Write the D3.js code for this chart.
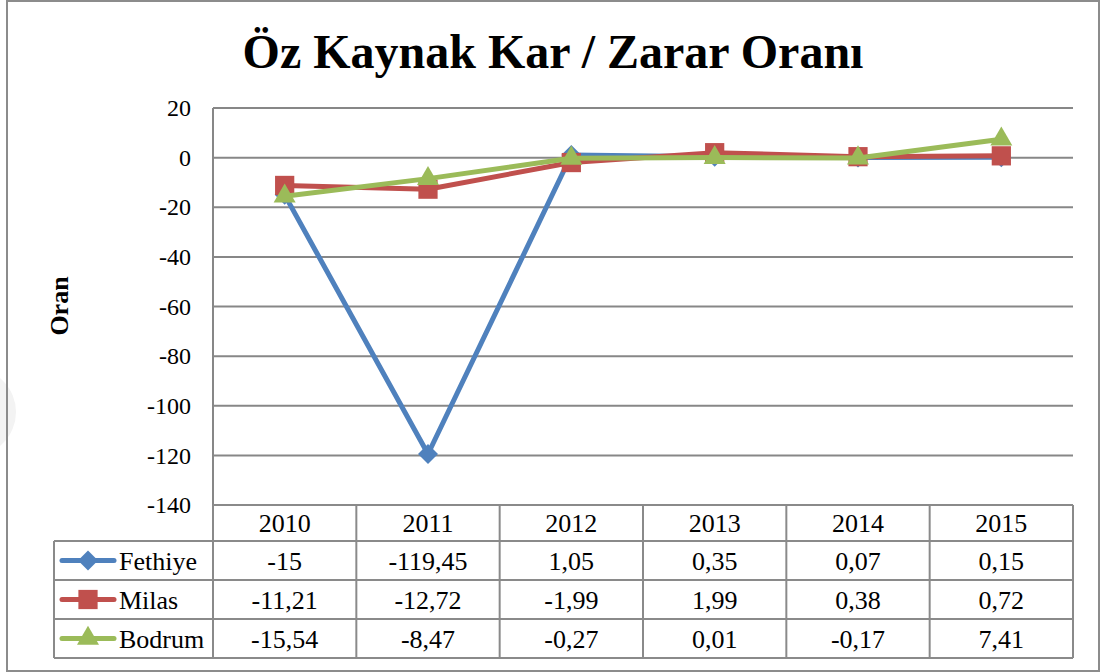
<!DOCTYPE html>
<html>
<head>
<meta charset="utf-8">
<script src="https://cdn.jsdelivr.net/npm/d3@7"></script>
<style>
    html, body { margin: 0; padding: 0; background: #fff; }
    #chart { width: 1105px; height: 672px; }
</style>
</head>
<body>
<div id="chart"></div>
<script>
const years = ["2010", "2011", "2012", "2013", "2014", "2015"];
const seriesNames = ["Fethiye", "Milas", "Bodrum"];
const fethiye = [-15, -119.45, 1.05, 0.35, 0.07, 0.15];
const milas = [-11.21, -12.72, -1.99, 1.99, 0.38, 0.72];
const bodrum = [-15.54, -8.47, -0.27, 0.01, -0.17, 7.41];
const yTicks = [20, 0, -20, -40, -60, -80, -100, -120, -140];
const colors = ["#4F81BD", "#C0504D", "#9BBB59"];
const SERIF = "'Liberation Serif'";

// marker per series: diamond is a square turned 45 degrees
const markers = [
    { type: d3.symbolSquare, size: 200, rotate: 45 },
    { type: d3.symbolSquare, size: 370, rotate: 0 },
    { type: d3.symbolTriangle, size: 210, rotate: 0 }
];

class LineTableChart {
    constructor (id) {
        this._container = document.getElementById(id);
        this._width = this._container.clientWidth;
        this._height = this._container.clientHeight;
        this._plot = { left: 213, right: 1073, top: 108, bottom: 505 };
        this._rowH = [36, 39, 39, 39];
    }
    draw (series) {
        this._series = series;
        const svg = d3.select(this._container).append('svg')
            .attr('width', this._width)
            .attr('height', this._height)
            .attr('font-family', SERIF);
        this._svg = svg;
        this._x = d3.scaleBand()
            .domain(years)
            .range([this._plot.left, this._plot.right]);
        this._y = d3.scaleLinear()
            .domain([-140, 20])
            .range([this._plot.bottom, this._plot.top]);
        this._drawFrame();
        this._drawGrid();
        this._drawLines();
        this._drawTable();
        svg.selectAll('text')
            .style('font-family', SERIF)
            .attr('fill', '#000');
    }
    _marker (k) {
        return d3.symbol().type(markers[k].type).size(markers[k].size)();
    }
    _drawFrame () {
        const svg = this._svg;
        // faint watermark at the left edge
        svg.append('circle')
            .attr('cx', -28).attr('cy', 412).attr('r', 44)
            .attr('fill', '#f3f3f3');
        svg.append('rect')
            .attr('x', 7).attr('y', 1)
            .attr('width', 1092).attr('height', 670)
            .attr('fill', 'none')
            .attr('stroke', '#8c8c8c')
            .attr('stroke-width', 2);
        svg.append('text')
            .attr('x', 553).attr('y', 68)
            .attr('text-anchor', 'middle')
            .style('font-size', '48px')
            .style('font-weight', 'bold')
            .text('Öz Kaynak Kar / Zarar Oranı');
        svg.append('text')
            .attr('transform', 'translate(68,306) rotate(-90)')
            .attr('text-anchor', 'middle')
            .style('font-size', '26px')
            .style('font-weight', 'bold')
            .text('Oran');
    }
    _drawGrid () {
        const p = this._plot;
        const g = this._svg.append('g');
        g.selectAll('line.grid')
            .data(yTicks)
            .enter()
            .append('line')
            .attr('class', 'grid')
            .attr('x1', p.left).attr('x2', p.right)
            .attr('y1', d => this._y(d)).attr('y2', d => this._y(d))
            .attr('stroke', '#878787')
            .attr('stroke-width', 2);
        g.append('line')
            .attr('x1', p.left).attr('x2', p.left)
            .attr('y1', p.top).attr('y2', p.bottom)
            .attr('stroke', '#878787')
            .attr('stroke-width', 2);
        // y tick labels
        const axis = d3.axisLeft(this._y)
            .tickValues(yTicks)
            .tickSize(0)
            .tickPadding(22)
            .tickFormat(d => String(d));
        const ax = this._svg.append('g')
            .attr('transform', 'translate(' + p.left + ',0)')
            .call(axis)
            .attr('font-family', SERIF)
            .attr('font-size', 24);
        ax.select('.domain').remove();
    }
    _drawLines () {
        const cx = d => this._x(d) + this._x.bandwidth() / 2;
        const line = d3.line()
            .x((d, i) => cx(years[i]))
            .y(d => this._y(d));
        this._series.forEach((s, k) => {
            const g = this._svg.append('g');
            g.append('path')
                .datum(s)
                .attr('d', line)
                .attr('fill', 'none')
                .attr('stroke', colors[k])
                .attr('stroke-width', 5)
                .attr('stroke-linejoin', 'round');
            g.selectAll('path.mark')
                .data(s)
                .enter()
                .append('path')
                .attr('class', 'mark')
                .attr('d', this._marker(k))
                .attr('transform', (d, i) => 'translate(' + cx(years[i]) + ',' + this._y(d) + ') rotate(' + markers[k].rotate + ')')
                .attr('fill', colors[k]);
        });
    }
    _drawTable () {
        const p = this._plot;
        const g = this._svg.append('g');
        const stroke = '#8a8a8a';
        const rowTop = [p.bottom];
        this._rowH.forEach((h, i) => rowTop.push(rowTop[i] + h));
        const legendLeft = 54;
        const fmt = v => String(v).replace('.', ',');
        // horizontal borders
        rowTop.forEach((yy, i) => {
            g.append('line')
                .attr('x1', i === 0 ? p.left : legendLeft).attr('x2', p.right)
                .attr('y1', yy).attr('y2', yy)
                .attr('stroke', stroke).attr('stroke-width', 2);
        });
        // vertical borders
        const xs = years.map(d => this._x(d)).concat([p.right]);
        g.selectAll('line.v')
            .data(xs)
            .enter()
            .append('line')
            .attr('x1', d => d).attr('x2', d => d)
            .attr('y1', rowTop[0]).attr('y2', rowTop[4])
            .attr('stroke', stroke).attr('stroke-width', 2);
        g.append('line')
            .attr('x1', legendLeft).attr('x2', legendLeft)
            .attr('y1', rowTop[1]).attr('y2', rowTop[4])
            .attr('stroke', stroke).attr('stroke-width', 2);
        const cx = d => this._x(d) + this._x.bandwidth() / 2;
        // header years
        g.selectAll('text.year')
            .data(years)
            .enter()
            .append('text')
            .attr('x', d => cx(d))
            .attr('y', (rowTop[0] + rowTop[1]) / 2)
            .attr('dy', '0.35em')
            .attr('text-anchor', 'middle')
            .style('font-size', '26px')
            .text(d => d);
        // series rows with legend keys
        this._series.forEach((s, k) => {
            const my = (rowTop[k + 1] + rowTop[k + 2]) / 2;
            g.append('line')
                .attr('x1', 62).attr('x2', 114)
                .attr('y1', my).attr('y2', my)
                .attr('stroke', colors[k])
                .attr('stroke-width', 5)
                .attr('stroke-linecap', 'round');
            g.append('path')
                .attr('d', this._marker(k))
                .attr('transform', 'translate(88,' + my + ') rotate(' + markers[k].rotate + ')')
                .attr('fill', colors[k]);
            g.append('text')
                .attr('x', 119).attr('y', my)
                .attr('dy', '0.35em')
                .style('font-size', '26px')
                .text(seriesNames[k]);
            g.selectAll('text.v' + k)
                .data(s)
                .enter()
                .append('text')
                .attr('x', (d, i) => cx(years[i]))
                .attr('y', my)
                .attr('dy', '0.35em')
                .attr('text-anchor', 'middle')
                .style('font-size', '26px')
                .text(d => fmt(d));
        });
    }
}

const chart = new LineTableChart('chart');
chart.draw([fethiye, milas, bodrum]);
</script>
</body>
</html>
